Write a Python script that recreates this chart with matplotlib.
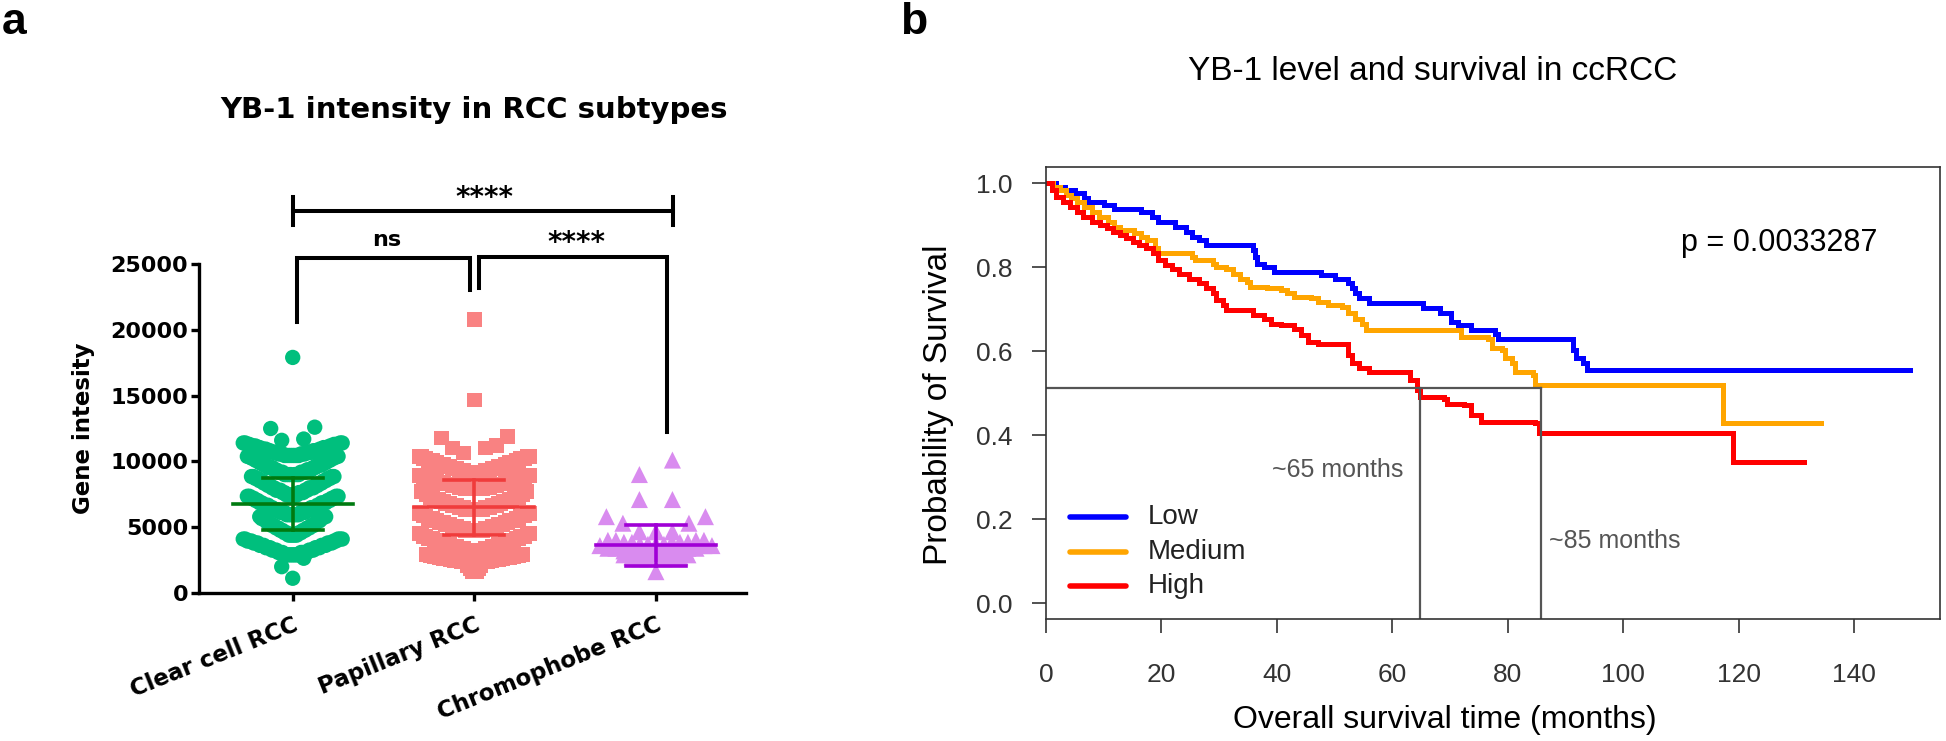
import matplotlib.pyplot as plt
import numpy as np

# ---------------- panel a : YB-1 intensity per subtype ----------------
CATEGORIES = ["Clear cell RCC", "Papillary RCC", "Chromophobe RCC"]

# values: intensity level and how many points sit there
clear_levels = [1120, 2000, 2640,
                2900, 3080, 3260, 3440, 3620, 3800, 3950, 4100,
                4400, 4580, 4760, 4940, 5120, 5300, 5480, 5650, 5800,
                5950, 6130, 6310, 6490, 6670, 6850, 7030, 7200, 7350,
                7450, 7630, 7810, 7990, 8170, 8350, 8530, 8700, 8850,
                9000, 9180, 9360, 9540, 9720, 9900, 10080, 10250, 10380,
                10450, 10570, 10690, 10810, 10930, 11050, 11170, 11290, 11400,
                11600, 11700, 12500, 12600, 17900]
clear_counts = [1, 1, 1,
                8, 7, 6, 6, 6, 6, 5, 5,
                5, 4, 4, 4, 4, 3, 3, 3, 3,
                7, 6, 5, 5, 5, 5, 4, 4, 4,
                6, 5, 5, 5, 4, 4, 4, 4, 4,
                7, 6, 5, 5, 5, 4, 4, 4, 4,
                8, 6, 6, 5, 5, 5, 5, 5, 4,
                1, 1, 1, 1, 1]

pap_levels = [1650, 1850, 2100,
              2300, 2380, 2460, 2540, 2620, 2700, 2780, 2860, 2920,
              3250, 3400, 3550, 3700, 3850, 4000, 4150, 4300, 4500,
              4750, 4900, 5050, 5200, 5350, 5500, 5650, 5850, 6050,
              6350, 6500, 6650, 6800, 6950, 7100, 7250, 7450, 7700,
              7900, 8030, 8160, 8290, 8420, 8550, 8680, 8820, 8950,
              9150, 9300, 9450, 9600, 9750, 9900, 10050, 10200, 10350,
              10640, 11020, 11200, 11780, 11880, 14670, 20800]
pap_counts = [3, 2, 2,
              7, 6, 5, 5, 5, 5, 4, 4, 4,
              8, 6, 6, 6, 5, 5, 5, 5, 4,
              8, 6, 6, 6, 5, 5, 5, 5, 4,
              8, 6, 6, 5, 5, 5, 5, 4, 4,
              8, 6, 6, 6, 5, 5, 5, 5, 4,
              8, 6, 6, 6, 5, 5, 5, 5, 4,
              1, 2, 1, 1, 1, 1, 1]

chromo_levels = [1620, 2600, 2750, 2900,
                 3000, 3200, 3400, 3600,
                 3700, 3850, 4000,
                 4650, 5300, 5800, 7100, 9000, 10100]
chromo_counts = [1, 3, 3, 2,
                 4, 4, 4, 3,
                 4, 5, 4,
                 3, 2, 2, 2, 1, 1]

group_mean = [6760, 6510, 3620]
group_sd = [1990, 2090, 1560]

# ---------------- panel b : Kaplan-Meier curves ----------------
low_time = [0, 1.8, 3.3, 5.0, 6.5, 7.3, 10.0, 11.8, 16.5, 18.3, 19.4, 22.4, 24.2,
            25.3, 26.5, 27.7, 35.9, 36.2, 36.5, 37.7, 39.5, 47.7, 50.1, 52.4, 53.0,
            53.6, 54.2, 56.0, 65.4, 68.3, 70.1, 71.3, 73.7, 77.8, 78.4, 91.3, 91.9,
            93.1, 93.7, 149.7]
low_surv = [1.0, 0.992, 0.984, 0.976, 0.964, 0.956, 0.948, 0.940, 0.932, 0.921, 0.909,
            0.897, 0.885, 0.873, 0.865, 0.853, 0.841, 0.825, 0.809, 0.801, 0.789,
            0.781, 0.773, 0.762, 0.750, 0.738, 0.726, 0.714, 0.702, 0.690, 0.670,
            0.662, 0.650, 0.642, 0.630, 0.603, 0.583, 0.571, 0.555, 0.555]

med_time = [0, 1.2, 2.4, 3.5, 4.4, 5.3, 6.5, 7.9, 9.2, 10.8, 11.8, 12.9, 15.2, 16.5,
            17.5, 18.9, 19.4, 25.3, 25.9, 28.9, 29.5, 31.2, 32.4, 33.6, 34.8, 35.4,
            38.3, 40.7, 41.8, 43.0, 46.0, 47.1, 48.9, 51.3, 52.4, 53.6, 54.8, 55.4,
            71.9, 76.6, 77.2, 79.0, 79.5, 80.7, 81.3, 84.3, 84.8, 117.3, 134.3]
med_surv = [1.0, 0.992, 0.984, 0.972, 0.964, 0.956, 0.944, 0.932, 0.920, 0.909,
            0.897, 0.889, 0.881, 0.873, 0.865, 0.845, 0.833, 0.825, 0.817, 0.809,
            0.801, 0.797, 0.785, 0.773, 0.766, 0.754, 0.750, 0.746, 0.738, 0.730,
            0.726, 0.718, 0.710, 0.706, 0.690, 0.678, 0.666, 0.650, 0.634, 0.630,
            0.607, 0.603, 0.583, 0.571, 0.551, 0.543, 0.519, 0.428, 0.428]

high_time = [0, 1.0, 1.8, 3.0, 4.1, 5.3, 6.4, 8.0, 9.3, 10.6, 11.6, 12.8, 13.9, 15.0,
             16.2, 17.3, 18.6, 19.4, 20.6, 21.8, 23.0, 24.7, 26.5, 27.7, 28.9, 29.5,
             30.6, 31.2, 35.9, 37.7, 38.9, 40.7, 43.0, 44.2, 45.4, 47.1, 52.4, 53.0,
             54.2, 56.0, 63.0, 64.2, 64.8, 68.9, 69.5, 72.5, 73.7, 75.4, 84.8, 85.4,
             119.0, 131.4]
high_surv = [1.0, 0.984, 0.968, 0.956, 0.944, 0.932, 0.920, 0.909, 0.901, 0.893,
             0.885, 0.877, 0.869, 0.861, 0.853, 0.845, 0.833, 0.817, 0.805, 0.797,
             0.785, 0.773, 0.762, 0.750, 0.738, 0.722, 0.710, 0.698, 0.686, 0.678,
             0.666, 0.662, 0.654, 0.638, 0.622, 0.618, 0.591, 0.571, 0.559, 0.551,
             0.531, 0.507, 0.491, 0.487, 0.475, 0.471, 0.448, 0.432, 0.428, 0.404,
             0.336, 0.336]

GROUPS = ["Low", "Medium", "High"]
P_TEXT = "p = 0.0033287"
MEDIAN_LEVEL = 0.513
MEDIAN_TIMES = [64.8, 85.8]

# ---------------- helpers ----------------
PX_PER_CAT = 181.5  # horizontal pixels between two categories in panel a


def swarm_offsets(values, edges, step_sparse, step_dense, n_sparse):
    """GraphPad-like spread: per bin, lowest values in the centre, higher ones outward."""
    values = np.asarray(values, float)
    x = np.zeros(len(values))
    idx = np.digitize(values, edges, right=True)
    for b in np.unique(idx):
        members = np.where(idx == b)[0]
        members = members[np.argsort(values[members], kind="stable")]
        n = len(members)
        step = step_sparse if n <= n_sparse else step_dense
        for k, m in enumerate(members):
            if n % 2:
                slot = (k + 1) // 2
                sign = -1 if k % 2 else 1
            else:
                slot = k // 2 + 1
                sign = -1 if k % 2 == 0 else 1
            x[m] = sign * slot * step
    return x / PX_PER_CAT


fig = plt.figure(figsize=(19.46, 7.41), dpi=100)

# ================= panel a =================
BOLD = dict(family="DejaVu Sans", weight="bold")
ax1 = fig.add_axes([199 / 1946, (741 - 593) / 741, 547 / 1946, 329 / 741])

scatter_specs = [
    (clear_levels, clear_counts, [0, 2850, 4250, 5900, 7400, 8950, 10420, 11500, 13000, 25000],
     11, 2.06, 5, "o", "#00BF7D", 122),
    (pap_levels, pap_counts, [0, 2200, 3100, 4650, 6200, 7800, 9050, 10450, 12500, 17000, 25000],
     11, 2.2, 6, "s", "#F98282", 112),
    (chromo_levels, chromo_counts, [0, 2400, 2950, 3650, 4300, 6000, 7600, 11000],
     16.5, 8, 7, "^", "#D98BEF", 150),
]
for i, (levels, counts, edges, s_sp, s_de, n_sp, mk, col, size) in enumerate(scatter_specs):
    vals = np.repeat(levels, counts)
    xs = i + swarm_offsets(vals, edges, s_sp, s_de, n_sp)
    ax1.scatter(xs, vals, marker=mk, s=size, color=col, edgecolors="none", zorder=2)

bar_colors = ["#007A10", "#F03C3C", "#A000D6"]
for i, (m, sd) in enumerate(zip(group_mean, group_sd)):
    c = bar_colors[i]
    ax1.plot([i - 0.33, i + 0.33], [m, m], color=c, lw=2.6, zorder=3)
    ax1.plot([i, i], [m - sd, m + sd], color=c, lw=2.6, zorder=3)
    ax1.plot([i - 0.165, i + 0.165], [m + sd, m + sd], color=c, lw=2.6, zorder=3)
    ax1.plot([i - 0.165, i + 0.165], [m - sd, m - sd], color=c, lw=2.6, zorder=3)

ax1.set_xlim(-0.516, 2.496)
ax1.set_ylim(0, 25000)
ax1.set_yticks(np.arange(0, 25001, 5000))
ax1.set_xticks(range(3))
ax1.set_xticklabels(CATEGORIES, rotation=22, ha="right", rotation_mode="anchor", **BOLD,
                    fontsize=16.5)
for lab in ax1.get_yticklabels():
    lab.set_fontfamily("DejaVu Sans")
    lab.set_fontweight("bold")
    lab.set_fontsize(16)
ax1.spines[["top", "right"]].set_visible(False)
for sp in ["left", "bottom"]:
    ax1.spines[sp].set_linewidth(2.4)
ax1.tick_params(axis="both", width=2.4, length=5.8, direction="out")
ax1.tick_params(axis="y", pad=2)
ax1.tick_params(axis="x", pad=9)
ax1.set_ylabel("Gene intesity", fontsize=16.5, **BOLD)
ax1.yaxis.set_label_coords(-0.19, 0.5)

# significance brackets
blw = 2.9
ax1.plot([0, 2.095], [29055, 29055], color="k", lw=blw, clip_on=False)
ax1.plot([0, 0], [27970, 30120], color="k", lw=blw, clip_on=False)
ax1.plot([2.095, 2.095], [27970, 30120], color="k", lw=blw, clip_on=False)
ax1.text(1.055, 30000, "****", ha="center", va="center", fontsize=20, **BOLD)

ax1.plot([0.021, 0.021, 0.975, 0.975], [20620, 25430, 25430, 23030], color="k", lw=blw,
         clip_on=False, solid_joinstyle="miter")
ax1.text(0.52, 26830, "ns", ha="center", va="center", fontsize=16, **BOLD)

ax1.plot([1.025, 1.025, 2.062, 2.062], [23150, 25560, 25560, 12260], color="k", lw=blw,
         clip_on=False, solid_joinstyle="miter")
ax1.text(1.56, 26600, "****", ha="center", va="center", fontsize=20, **BOLD)

fig.text(474 / 1946, 1 - 110 / 741, "YB-1 intensity in RCC subtypes", ha="center",
         va="center", fontsize=21, **BOLD)
fig.text(2 / 1946, 1 - 22 / 741, "a", ha="left", va="center", fontsize=32,
         family="Liberation Sans", weight="bold")

# ================= panel b =================
REG = dict(family="Liberation Sans")
ax2 = fig.add_axes([1046 / 1946, (741 - 619) / 741, 894 / 1946, 452 / 741])
curves = [(low_time, low_surv, "#0000FF"), (med_time, med_surv, "#FFA500"),
          (high_time, high_surv, "#FF0000")]
for t, s, c in curves:
    ax2.step(t, s, where="post", color=c, lw=3.6, solid_joinstyle="miter")

gray = "#555555"
ax2.plot([0, MEDIAN_TIMES[1]], [MEDIAN_LEVEL, MEDIAN_LEVEL], color=gray, lw=1.6)
for mt in MEDIAN_TIMES:
    ax2.plot([mt, mt], [-0.05, MEDIAN_LEVEL], color=gray, lw=1.6)
ax2.text(61.9, 0.316, "~65 months", ha="right", va="center", color=gray, fontsize=18, **REG)
ax2.text(87.2, 0.149, "~85 months", ha="left", va="center", color=gray, fontsize=18, **REG)

# legend, drawn R-style without a frame
for (t, s, c), name, ly in zip(curves, GROUPS, [0.205, 0.122, 0.041]):
    ax2.plot([4.2, 13.8], [ly, ly], color=c, lw=4, solid_capstyle="round")
    ax2.text(17.7, ly, name, ha="left", va="center", fontsize=20, color="#222222", **REG)

ax2.text(144, 0.857, P_TEXT, ha="right", va="center", fontsize=22, color="black", **REG)

ax2.set_xlim(0, 154.9)
ax2.set_ylim(-0.038, 1.039)
ax2.set_xticks(np.arange(0, 141, 20))
ax2.set_yticks(np.arange(0, 1.01, 0.2))
ax2.set_yticklabels([f"{v:.1f}" for v in np.arange(0, 1.01, 0.2)])
for sp in ax2.spines.values():
    sp.set_linewidth(1.2)
    sp.set_color("#333333")
ax2.tick_params(axis="both", length=10, width=1.2, color="#333333", labelcolor="#333333",
                labelsize=19)
ax2.tick_params(axis="y", pad=14)
ax2.tick_params(axis="x", pad=22)
for lab in ax2.get_xticklabels() + ax2.get_yticklabels():
    lab.set_fontfamily("Liberation Sans")

fig.text(938 / 1946, 1 - 405 / 741, "Probability of Survival", rotation=90, ha="center",
         va="center", fontsize=24, **REG)
fig.text(1445 / 1946, 1 - 720 / 741, "Overall survival time (months)", ha="center",
         va="center", fontsize=23, **REG)
fig.text(1433 / 1946, 1 - 71 / 741, "YB-1 level and survival in ccRCC", ha="center",
         va="center", fontsize=24, **REG)
fig.text(900 / 1946, 1 - 22 / 741, "b", ha="left", va="center", fontsize=32,
         family="Liberation Sans", weight="bold")

fig.savefig("out.png", dpi=100)
